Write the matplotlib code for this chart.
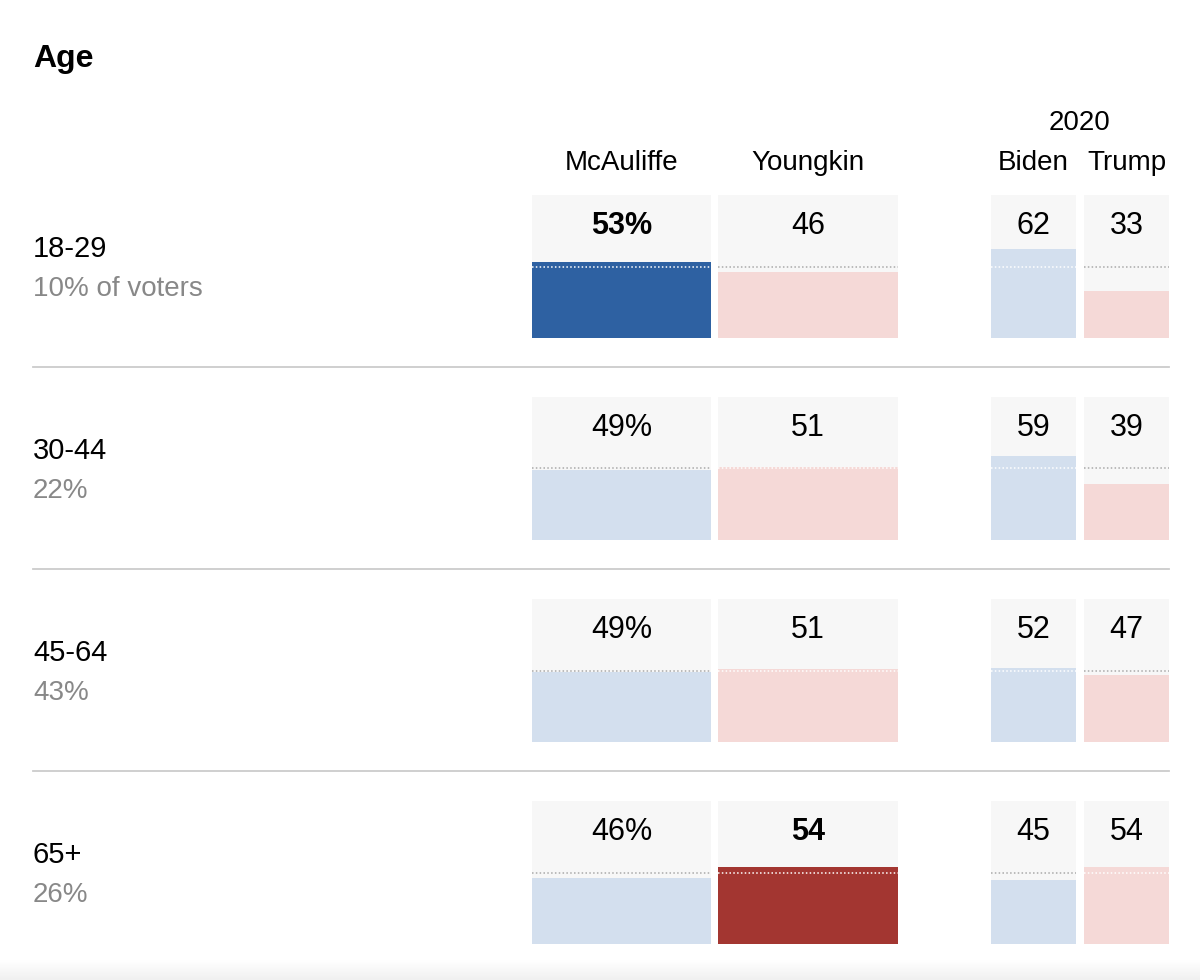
import numpy as np
import matplotlib
matplotlib.use("Agg")
import matplotlib.pyplot as plt
from matplotlib import font_manager

# data
groups = ["18-29", "30-44", "45-64", "65+"]
shares = ["10% of voters", "22%", "43%", "26%"]
candidates = ["McAuliffe", "Youngkin", "Biden", "Trump"]
mcauliffe = [53, 49, 49, 46]
youngkin = [46, 51, 51, 54]
biden = [62, 59, 52, 45]
trump = [33, 39, 47, 54]
# which 2021 candidate is highlighted per row (0 = McAuliffe, 1 = Youngkin, None = no clear lead)
highlight = [0, None, None, 1]

# layout in pixels (figure is 1200 x 980)
W, H = 1200, 980
col_left = [532, 718, 991, 1084]
col_right = [711, 898, 1076, 1169]
box_top0, box_h, row_step = 195, 143, 202

BLUE_D, BLUE_L = "#2e61a2", "#d3dfee"
RED_D, RED_L = "#a33631", "#f5d9d7"
BOX_BG = "#f7f7f7"

names = [f.name for f in font_manager.fontManager.ttflist]
main_font = "Liberation Sans Narrow" if "Liberation Sans Narrow" in names else "Liberation Sans"
plt.rcParams["font.family"] = [main_font, "DejaVu Sans"]

fig = plt.figure(figsize=(12, 9.8), dpi=100)

# background axes in pixel coords for title, headers, separators
bg = fig.add_axes([0, 0, 1, 1])
bg.axis("off")

# faint shadow at the bottom edge
grad = np.linspace(0, 1, 50).reshape(-1, 1)
bg.imshow(grad, extent=[0, W, H, 960], cmap=matplotlib.colors.LinearSegmentedColormap.from_list(
    "sh", ["#ffffff", "#f0f0f0"]), aspect="auto", zorder=0)
bg.set_xlim(0, W)
bg.set_ylim(H, 0)

bg.text(33, 59, "Age", fontsize=23, fontweight="bold", family=["Liberation Sans", "DejaVu Sans"],
        ha="left", va="center")

centers = [(l + r) / 2 for l, r in zip(col_left, col_right)]
widths = [r - l for l, r in zip(col_left, col_right)]
for c, name in zip(centers, candidates):
    bg.text(c, 163, name, fontsize=20, ha="center", va="center")
bg.text((centers[2] + centers[3]) / 2, 123, "2020", fontsize=20, ha="center", va="center")

for i in range(len(groups) - 1):
    y = box_top0 + box_h + 29 + i * row_step
    bg.plot([33, 1169], [y, y], color="#cccccc", lw=1.3)

series = [mcauliffe, youngkin, biden, trump]
for i, g in enumerate(groups):
    top = box_top0 + i * row_step
    ax = fig.add_axes([0, 1 - (top + box_h) / H, 1, box_h / H])
    ax.set_xlim(0, W)
    ax.set_ylim(0, 100)
    ax.axis("off")

    vals = [s[i] for s in series]
    hl = highlight[i]
    colors = [BLUE_D if hl == 0 else BLUE_L,
              RED_D if hl == 1 else RED_L,
              BLUE_L, RED_L]

    ax.bar(centers, [100] * 4, width=widths, color=BOX_BG, zorder=1)
    ax.bar(centers, vals, width=widths, color=colors, zorder=2)

    for j, v in enumerate(vals):
        dot_col = "#ffffff" if v >= 50 else "#aaaaaa"
        ax.hlines(50, col_left[j], col_right[j], colors=dot_col, linestyles=(0, (1, 1.5)),
                  lw=1.1, zorder=3)
        label = f"{v}%" if j == 0 else f"{v}"
        ax.text(centers[j], 78, label, fontsize=22, ha="center", va="center",
                fontweight="bold" if j == hl else "normal", zorder=4)

    ax.text(33, 62.5, g, fontsize=21, ha="left", va="center", clip_on=False)
    ax.text(33, 34.5, shares[i], fontsize=20, color="#888888", ha="left", va="center", clip_on=False)

fig.savefig("out.png", dpi=100, facecolor="white")
